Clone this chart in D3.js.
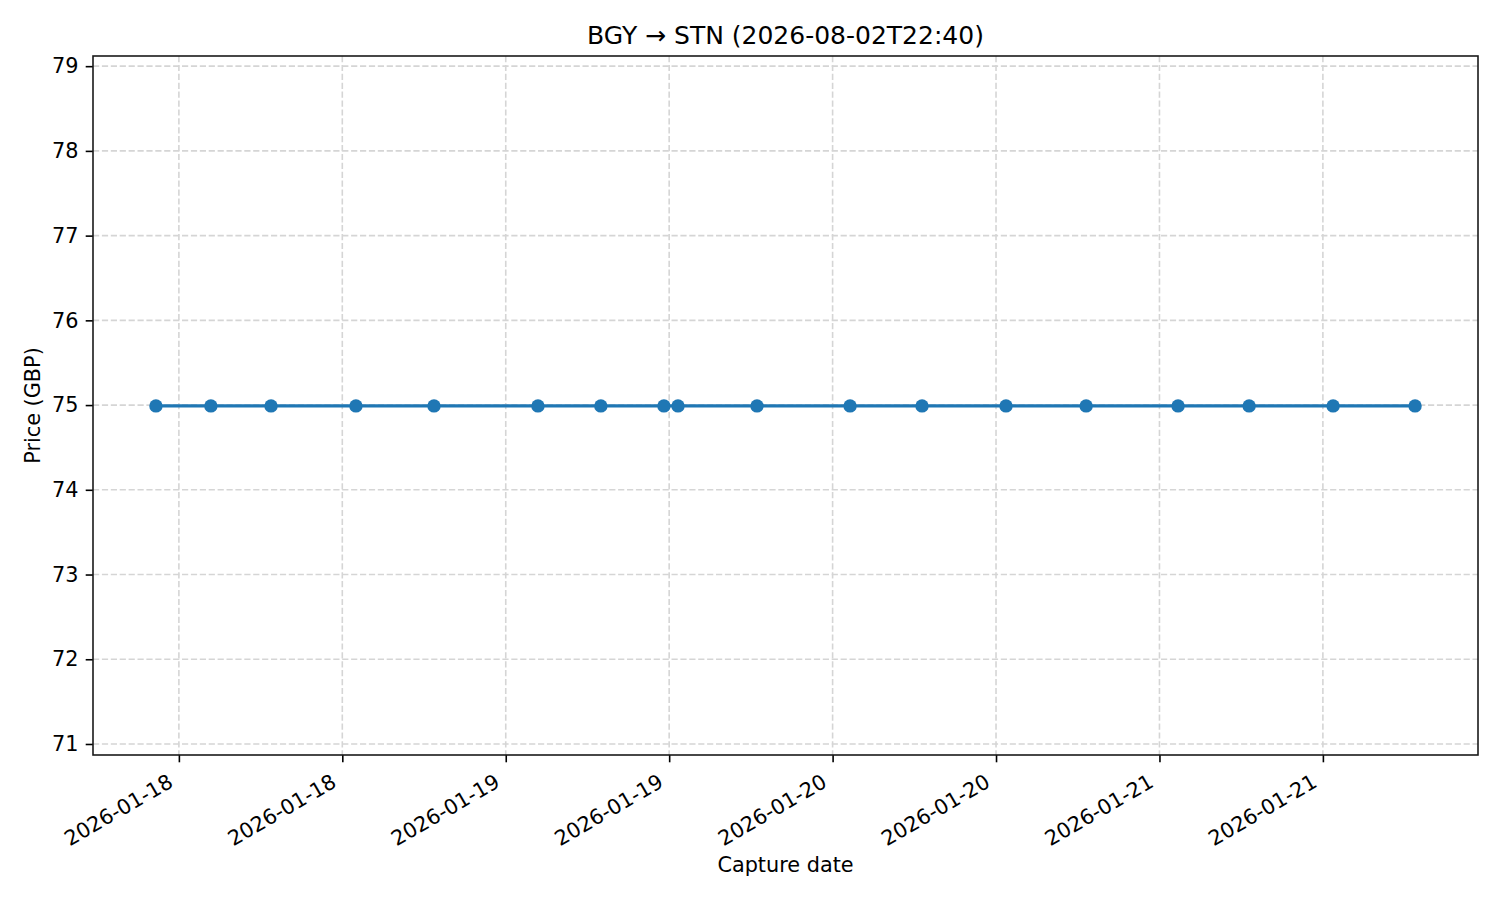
<!DOCTYPE html>
<html>
<head>
<meta charset="utf-8">
<script src="https://cdn.jsdelivr.net/npm/d3@7"></script>
<style>
  body { margin: 0; background: #fff; }
  svg text { font-family: "DejaVu Sans", sans-serif; fill: #000; }
  .grid line { stroke: #d5d5d5; stroke-width: 1.6; stroke-dasharray: 6.2,2.7; }
</style>
</head>
<body>
<div id="chart"></div>
<script>
// capture times (UTC) and prices
var captureTimes = [
  "2026-01-17T22:19", "2026-01-18T02:21", "2026-01-18T06:46", "2026-01-18T13:00",
  "2026-01-18T18:44", "2026-01-19T02:22", "2026-01-19T06:59", "2026-01-19T11:37",
  "2026-01-19T12:39", "2026-01-19T18:27", "2026-01-20T01:17", "2026-01-20T06:34",
  "2026-01-20T12:44", "2026-01-20T18:37", "2026-01-21T01:22", "2026-01-21T06:35",
  "2026-01-21T12:45", "2026-01-21T18:46"
];
var prices = [74.99, 74.99, 74.99, 74.99, 74.99, 74.99, 74.99, 74.99, 74.99,
              74.99, 74.99, 74.99, 74.99, 74.99, 74.99, 74.99, 74.99, 74.99];
var xTickTimes = [
  "2026-01-18T00:00", "2026-01-18T12:00", "2026-01-19T00:00", "2026-01-19T12:00",
  "2026-01-20T00:00", "2026-01-20T12:00", "2026-01-21T00:00", "2026-01-21T12:00"
];
var yTicks = [71, 72, 73, 74, 75, 76, 77, 78, 79];
var titleText = "BGY \u2192 STN (2026-08-02T22:40)";

var parseTime = d3.utcParse("%Y-%m-%dT%H:%M");
var fmtDay = d3.utcFormat("%Y-%m-%d");

var width = 1500, height = 900;
var plotLeft = 93, plotRight = 1478, plotTop = 56, plotBottom = 755;
var tickLen = 7.3, tickPad = 7.3;

var svg = d3.select("#chart").append("svg")
  .attr("width", width)
  .attr("height", height);

var data = captureTimes.map(function (t, i) { return { t: parseTime(t), v: prices[i] }; });

// 5% margin each side like matplotlib
var ext = d3.extent(data, function (d) { return d.t; });
var pad = (ext[1] - ext[0]) * 0.05;
var x = d3.scaleUtc()
  .domain([new Date(+ext[0] - pad), new Date(+ext[1] + pad)])
  .range([plotLeft, plotRight]);
var y = d3.scaleLinear().domain([70.87, 79.12]).range([plotBottom, plotTop]);

var xTicks = xTickTimes.map(parseTime);

/*grid*/
var grid = svg.append("g").attr("class", "grid");
grid.selectAll(".gx").data(xTicks).enter().append("line")
  .attr("x1", function (d) { return x(d); })
  .attr("x2", function (d) { return x(d); })
  .attr("y1", plotTop).attr("y2", plotBottom);
grid.selectAll(".gy").data(yTicks).enter().append("line")
  .attr("y1", function (d) { return y(d); })
  .attr("y2", function (d) { return y(d); })
  .attr("x1", plotLeft).attr("x2", plotRight);

/*axes*/
var xAxis = svg.append("g")
  .attr("transform", "translate(0," + plotBottom + ")")
  .call(d3.axisBottom(x).tickValues(xTicks).tickFormat(fmtDay).tickSize(tickLen).tickPadding(tickPad));
xAxis.select(".domain").remove();
xAxis.selectAll(".tick line").attr("stroke", "#000").attr("stroke-width", 1.6);
xAxis.selectAll(".tick text")
  .style("font-size", "20.8px")
  .attr("text-anchor", "end")
  .attr("y", 0).attr("dy", 0)
  .attr("transform", "translate(-5,31) rotate(-30)");

var yAxis = svg.append("g")
  .attr("transform", "translate(" + plotLeft + ",0)")
  .call(d3.axisLeft(y).tickValues(yTicks).tickSize(tickLen).tickPadding(tickPad));
yAxis.select(".domain").remove();
yAxis.selectAll(".tick line").attr("stroke", "#000").attr("stroke-width", 1.6);
yAxis.selectAll(".tick text").style("font-size", "20.8px");

svg.append("rect")
  .attr("x", plotLeft).attr("y", plotTop)
  .attr("width", plotRight - plotLeft).attr("height", plotBottom - plotTop)
  .attr("fill", "none").attr("stroke", "#1a1a1a").attr("stroke-width", 1.6);

/*series*/
var line = d3.line()
  .x(function (d) { return x(d.t); })
  .y(function (d) { return y(d.v); });

svg.append("path")
  .datum(data)
  .attr("d", line)
  .attr("fill", "none")
  .attr("stroke", "#1f77b4")
  .attr("stroke-width", 3.1);

svg.selectAll("circle.pt").data(data).enter().append("circle")
  .attr("class", "pt")
  .attr("cx", function (d) { return x(d.t); })
  .attr("cy", function (d) { return y(d.v); })
  .attr("r", 6.7)
  .attr("fill", "#1f77b4");

/*labels*/
svg.append("text")
  .attr("x", (plotLeft + plotRight) / 2).attr("y", 44)
  .attr("text-anchor", "middle")
  .style("font-size", "25px")
  .text(titleText);

svg.append("text")
  .attr("x", (plotLeft + plotRight) / 2).attr("y", 872)
  .attr("text-anchor", "middle")
  .style("font-size", "20.8px")
  .text("Capture date");

svg.append("text")
  .attr("transform", "translate(39.5," + ((plotTop + plotBottom) / 2) + ") rotate(-90)")
  .attr("text-anchor", "middle")
  .style("font-size", "20.8px")
  .text("Price (GBP)");
</script>
</body>
</html>
